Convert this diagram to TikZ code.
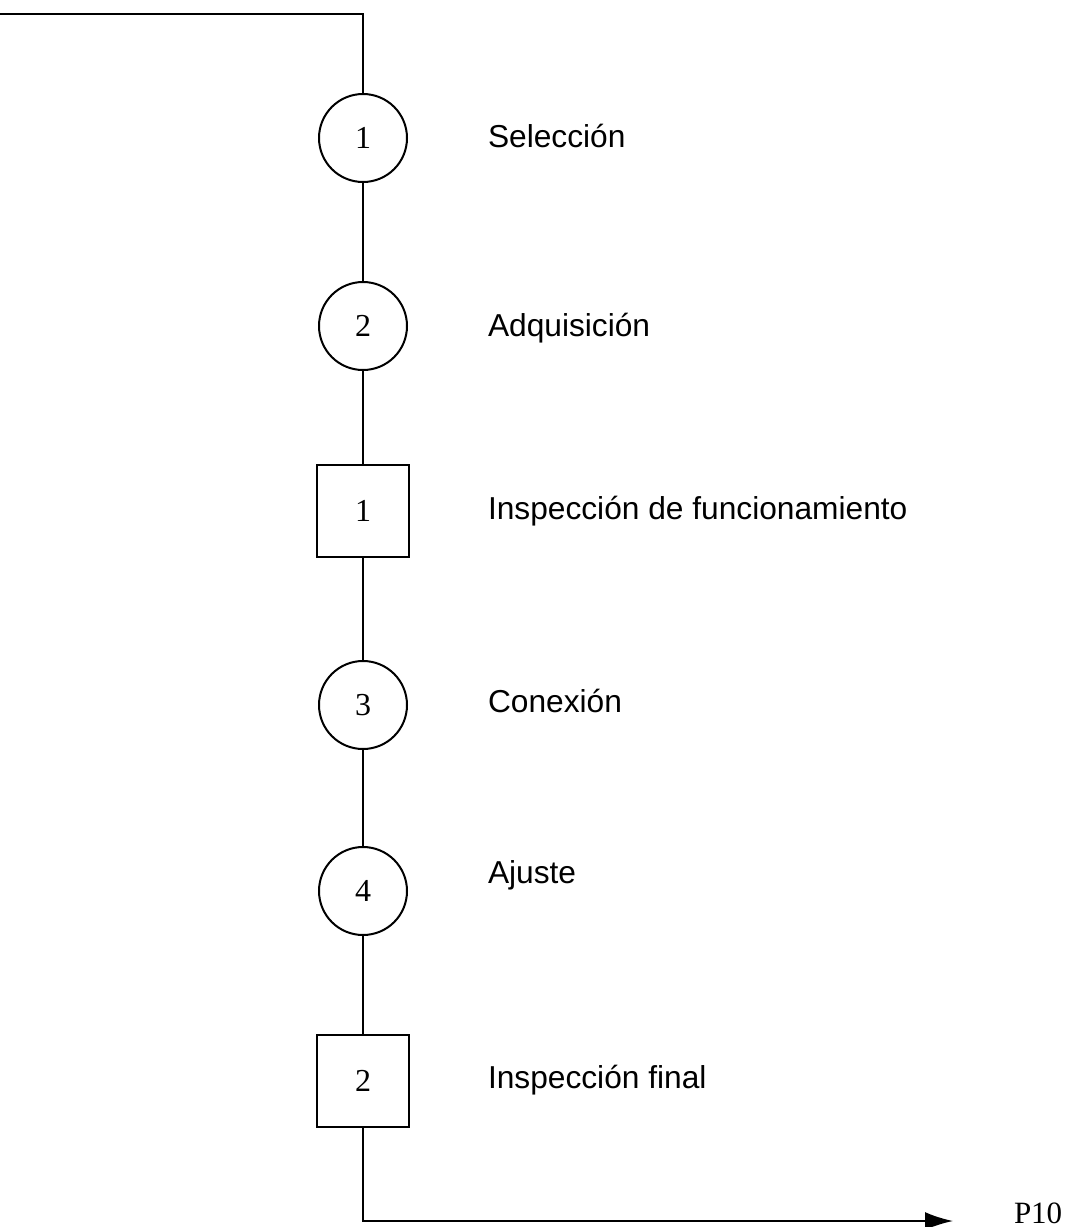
\documentclass[tikz,border=0pt]{standalone}
\usepackage{fontspec}
\setmainfont{Liberation Serif}
\newfontfamily\labelfont{Liberation Sans}
\usetikzlibrary{arrows.meta}
\begin{document}
\begin{tikzpicture}[x=0.5pt,y=-0.5pt,line width=1pt,
  opcircle/.style={draw,circle,inner sep=0pt,minimum size=44pt,
    font=\fontsize{16}{18}\selectfont},
  inspbox/.style={draw,rectangle,inner sep=0pt,minimum size=46pt,
    font=\fontsize{16}{18}\selectfont},
  steplabel/.style={anchor=base west,inner sep=0pt,
    font=\labelfont\fontsize{15.85}{19}\selectfont},
  flow/.style={draw,line width=1pt}]
\useasboundingbox (0,0) rectangle (1070,1227);

% incoming line
\coordinate (in) at (0,14);
\coordinate (incorner) at (363,14);

% operations and inspections
\node[opcircle] (op1) at (363,138) {1};
\node[opcircle] (op2) at (363,326) {2};
\node[inspbox]  (in1) at (363,511) {1};
\node[opcircle] (op3) at (363,705) {3};
\node[opcircle] (op4) at (363,891) {4};
\node[inspbox]  (in2) at (363,1081) {2};

% descriptions
\node[steplabel] (l1) at (487,147)  {Selección};
\node[steplabel] (l2) at (487,336)  {Adquisición};
\node[steplabel] (l3) at (487,519)  {Inspección de funcionamiento};
\node[steplabel] (l4) at (487,712)  {Conexión};
\node[steplabel] (l5) at (487,883)  {Ajuste};
\node[steplabel] (l6) at (487,1088) {Inspección final};

% outgoing line
\coordinate (outcorner) at (363,1221);
\coordinate (out) at (953,1221);
\node[anchor=base west,inner sep=0pt,font=\fontsize{15.5}{18}\selectfont] (p10) at (1013,1223) {P10};

% connectors
\draw[flow] (in) -- (incorner) -- (op1.north);
\draw[flow] (op1) -- (op2);
\draw[flow] (op2) -- (in1);
\draw[flow] (in1) -- (op3);
\draw[flow] (op3) -- (op4);
\draw[flow] (op4) -- (in2);
\draw[flow,-{Latex[length=14pt,width=9pt]}] (in2.south) -- (outcorner) -- (out);
\end{tikzpicture}
\end{document}
